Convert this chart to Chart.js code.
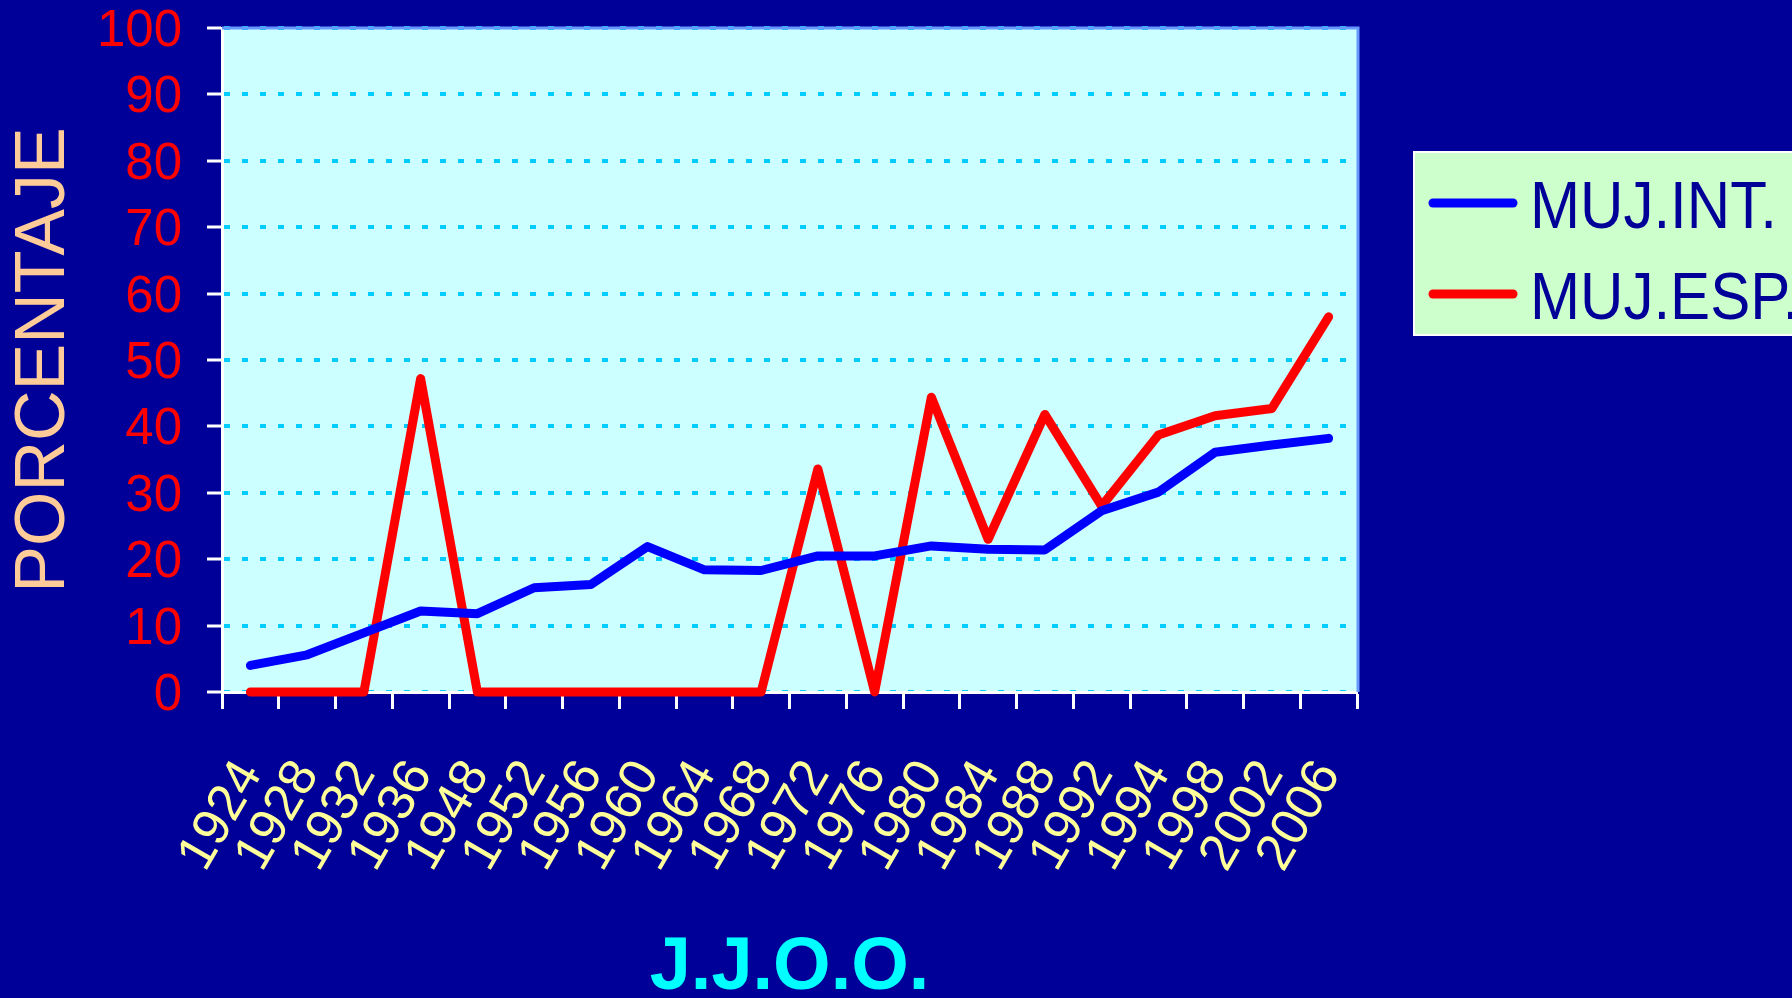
<!DOCTYPE html>
<html><head><meta charset="utf-8">
<script src="https://cdn.jsdelivr.net/npm/chart.js@4.4.0/dist/chart.umd.min.js"></script>
<style>html,body{margin:0;padding:0;background:#000099;overflow:hidden}#wrap{width:1792px;height:998px;position:relative}canvas{display:block}</style>
</head><body><div id="wrap"><canvas id="c" width="1792" height="998"></canvas></div>
<script>
const categories = ['1924','1928','1932','1936','1948','1952','1956','1960','1964','1968','1972','1976','1980','1984','1988','1992','1994','1998','2002','2006'];
const mujInt = [4.0,5.6,8.9,12.2,11.8,15.7,16.2,21.9,18.4,18.3,20.5,20.5,22.0,21.5,21.4,27.3,30.1,36.1,37.2,38.2];
const mujEsp = [0,0,0,47.2,0,0,0,0,0,0,33.6,0,44.4,23.0,41.8,28.0,38.7,41.6,42.7,56.5];
const seriesLabels = ['MUJ.INT.','MUJ.ESP.'];
const seriesColors = ['#0000FF','#FF0000'];
const yMin = 0, yMax = 100, yStep = 10;
const yTitle = 'PORCENTAJE';
const xTitle = 'J.J.O.O.';

const FONT = "'Liberation Sans', Arial, sans-serif";

const plotBg = {
  id: 'plotBg',
  beforeDraw(chart) {
    const {ctx, chartArea: a} = chart;
    ctx.save();
    ctx.fillStyle = '#CCFFFF';
    ctx.fillRect(a.left, a.top, a.right - a.left, a.bottom - a.top);
    ctx.restore();
  },
  afterDatasetsDraw(chart) {
    const {ctx, chartArea: a} = chart;
    ctx.save();
    ctx.strokeStyle = '#6699FF';
    ctx.lineWidth = 3;
    ctx.beginPath();
    ctx.moveTo(a.left, a.top);
    ctx.lineTo(a.right + 1, a.top);
    ctx.lineTo(a.right + 1, a.bottom);
    ctx.stroke();
    ctx.restore();
  }
};

const boxLegend = {
  id: 'boxLegend',
  afterDraw(chart) {
    const {ctx} = chart;
    ctx.save();
    ctx.fillStyle = '#CCFFCC';
    ctx.fillRect(1414, 152, 400, 183);
    ctx.strokeStyle = '#FFFFFF';
    ctx.lineWidth = 2;
    ctx.strokeRect(1414, 152, 400, 183);
    const rows = [203, 294];
    const base = [228, 319];
    chart.data.datasets.forEach((ds, i) => {
      const y = rows[i];
      ctx.strokeStyle = ds.borderColor;
      ctx.lineWidth = 9;
      ctx.lineCap = 'round';
      ctx.beginPath();
      ctx.moveTo(1433, y);
      ctx.lineTo(1513, y);
      ctx.stroke();
      ctx.save();
      ctx.translate(1530, base[i]);
      ctx.scale(0.91, 1);
      ctx.fillStyle = '#000099';
      ctx.font = '66px ' + FONT;
      ctx.textBaseline = 'alphabetic';
      ctx.textAlign = 'left';
      ctx.fillText(ds.label, 0, 0);
      ctx.restore();
    });
    ctx.restore();
  }
};

new Chart(document.getElementById('c'), {
  type: 'line',
  data: {
    labels: categories,
    datasets: [
      {label: seriesLabels[0], data: mujInt, borderColor: seriesColors[0], backgroundColor: seriesColors[0], borderWidth: 9, pointRadius: 0, tension: 0, borderCapStyle: 'round', borderJoinStyle: 'round'},
      {label: seriesLabels[1], data: mujEsp, borderColor: seriesColors[1], backgroundColor: seriesColors[1], borderWidth: 9, pointRadius: 0, tension: 0, borderCapStyle: 'round', borderJoinStyle: 'round'}
    ]
  },
  options: {
    responsive: false,
    devicePixelRatio: 1,
    animation: false,
    clip: false,
    layout: {padding: {left: 0, top: 28, right: 435, bottom: 0}},
    plugins: {legend: {display: false}, tooltip: {enabled: false}},
    scales: {
      x: {
        type: 'category',
        offset: true,
        grid: {offset: true, drawOnChartArea: false, drawTicks: true, tickLength: 17, tickColor: '#FFFFFF', tickWidth: 3},
        border: {display: true, color: '#FFFFFF', width: 3},
        ticks: {color: '#FFFF99', font: {family: FONT, size: 52, lineHeight: 1}, minRotation: 60, maxRotation: 60, autoSkip: false, padding: 44},
        title: {display: true, text: xTitle, color: '#00FFFF', font: {family: FONT, size: 74, weight: 'bold', lineHeight: 0.8}, padding: {top: 0, bottom: 0}},
        afterFit(s) { s.height = 306; s.paddingLeft = 0; s.paddingRight = 0; s.paddingTop = 0; s.paddingBottom = 0; }
      },
      y: {
        min: yMin, max: yMax,
        grid: {color: '#00CCFF', lineWidth: 4, drawOnChartArea: true, drawTicks: true, tickLength: 15, tickColor: '#FFFFFF', tickWidth: 3, tickBorderDash: []},
        border: {display: true, color: '#FFFFFF', width: 3, dash: [6, 12]},
        ticks: {stepSize: yStep, color: '#FF0000', font: {family: FONT, size: 51, lineHeight: 1}, padding: 25, labelOffset: 4},
        title: {display: true, text: yTitle, color: '#FFCC99', font: {family: FONT, size: 70, lineHeight: 1}, padding: {top: 10, bottom: 0}},
        afterFit(s) { s.width = 222; s.paddingTop = 0; s.paddingBottom = 0; s.paddingLeft = 0; s.paddingRight = 0; }
      }
    }
  },
  plugins: [plotBg, boxLegend]
});
</script>
</body></html>
